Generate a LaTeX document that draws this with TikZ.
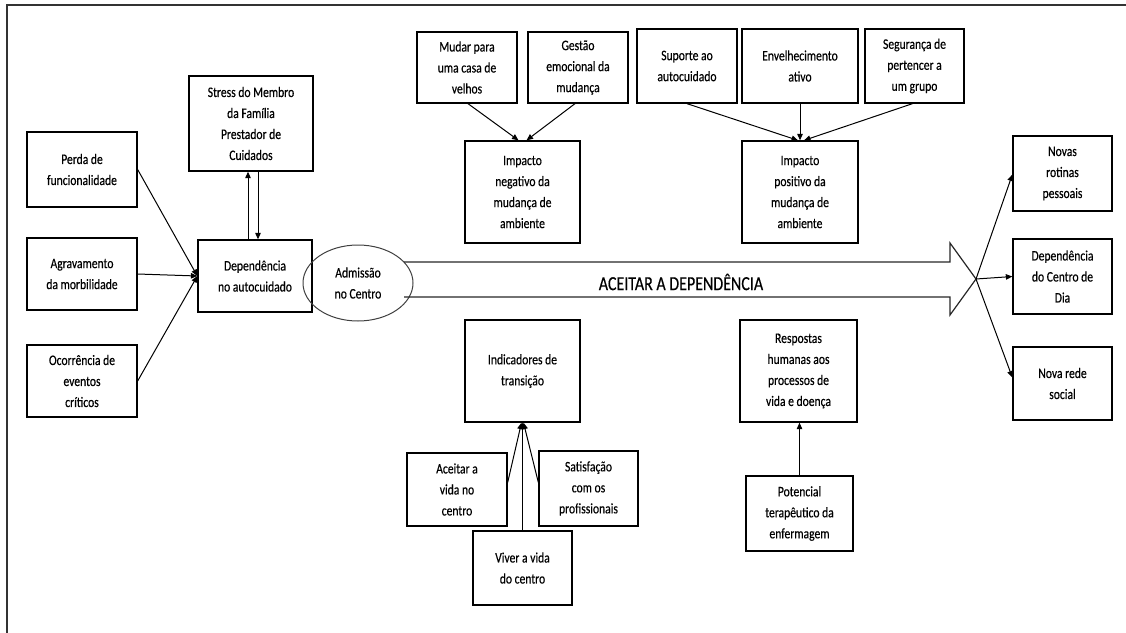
\documentclass[tikz,border=0pt]{standalone}
\usepackage{fontspec}
\setmainfont{Carlito}[FakeStretch=0.8,FakeBold=0.4]
\usetikzlibrary{arrows.meta,shapes.geometric}
\begin{document}
\begin{tikzpicture}[x=1pt,y=-1pt,
  box/.style={draw=black,line width=1.3pt,rectangle,align=center,inner sep=0pt,
    font=\fontsize{14.5}{21}\selectfont},
  arr/.style={draw=black,line width=1pt,-{Triangle[length=6.5pt,width=5.5pt]}}]
\useasboundingbox (0,0) rectangle (1126,632);
\clip (0,0) rectangle (1126,632);
% outer frame (runs past the page on the right and bottom)
\draw[black!80,line width=1.8pt] (7,5) rectangle (1220,700);

% left-hand causes
\node[box,minimum width=110pt,minimum height=75pt] (perda) at (82,169.5) {Perda de\\funcionalidade};
\node[box,minimum width=110pt,minimum height=72pt] (agrav) at (82,274) {Agravamento\\da morbilidade};
\node[box,minimum width=110pt,minimum height=72pt] (ocorr) at (82,381) {Ocorrência de\\eventos\\críticos};
\node[box,minimum width=124pt,minimum height=95pt] (stress) at (251,123.5) {Stress do Membro\\da Família\\Prestador de\\Cuidados};
\node[box,minimum width=114pt,minimum height=72pt] (dep) at (255,276) {Dependência\\no autocuidado};
\node[box,ellipse,draw=black!75,line width=1pt,minimum width=110pt,minimum height=76pt] (adm) at (358,283) {Admissão\\no Centro};

% top groups
\node[box,minimum width=100pt,minimum height=71pt] (mudar) at (467,67.5) {Mudar para\\uma casa de\\velhos};
\node[box,minimum width=100pt,minimum height=71pt] (gestao) at (578,67.5) {Gestão\\emocional da\\mudança};
\node[box,minimum width=115pt,minimum height=102pt] (impneg) at (522.5,192) {Impacto\\negativo da\\mudança de\\ambiente};
\node[box,minimum width=100pt,minimum height=74pt] (suporte) at (687,66) {Suporte ao\\autocuidado};
\node[box,minimum width=116pt,minimum height=74pt] (envelh) at (800,66) {Envelhecimento\\ativo};
\node[box,minimum width=99pt,minimum height=74pt] (segur) at (914.5,66) {Segurança de\\pertencer a\\um grupo};
\node[box,minimum width=116pt,minimum height=102pt] (imppos) at (800,192) {Impacto\\positivo da\\mudança de\\ambiente};

% right-hand outcomes
\node[box,minimum width=99pt,minimum height=75pt] (novas) at (1062.5,173.5) {Novas\\rotinas\\pessoais};
\node[box,minimum width=99pt,minimum height=75pt] (depc) at (1062.5,276.5) {Dependência\\do Centro de\\Dia};
\node[box,minimum width=99pt,minimum height=73pt] (rede) at (1062.5,383.5) {Nova rede\\social};

% bottom groups
\node[box,minimum width=115pt,minimum height=102pt] (indic) at (522.5,371) {Indicadores de\\transição};
\node[box,minimum width=100pt,minimum height=73pt] (aceitar) at (457,489.5) {Aceitar a\\vida no\\centro};
\node[box,minimum width=99pt,minimum height=75pt] (satisf) at (588.5,488.5) {Satisfação\\com os\\profissionais};
\node[box,minimum width=99pt,minimum height=74pt] (viver) at (522.5,568) {Viver a vida\\do centro};
\node[box,minimum width=117pt,minimum height=102pt] (resp) at (798.5,371) {Respostas\\humanas aos\\processos de\\vida e doença};
\node[box,minimum width=107pt,minimum height=75pt] (potenc) at (799.5,513.5) {Potencial\\terapêutico da\\enfermagem};

% large hollow arrow
\coordinate (su) at (404,262);
\coordinate (sl) at (404,297);
\coordinate (tip) at (976,279);
\draw[black!85,line width=1.2pt,line join=miter]
  (su) -- (950,262) -- (950,243) -- (tip) -- (950,315) -- (950,297) -- (sl);
\node[font=\fontsize{20}{24}\selectfont] (aceit) at (681,282) {ACEITAR A DEPENDÊNCIA};

% connectors
\draw[arr] (perda.east) -- (dep.west);
\draw[arr] (agrav.east) -- (dep.west);
\draw[arr] (ocorr.east) -- (dep.west);
\draw[arr] ([xshift=-7pt]dep.north) -- ([xshift=-7pt]dep.north |- stress.south);
\draw[arr] ([xshift=3pt]dep.north |- stress.south) -- ([xshift=3pt]dep.north);

\draw[arr] ([xshift=1pt]mudar.south) -- ([xshift=-4pt]impneg.north);
\draw[arr] ([xshift=-3pt]gestao.south) -- ([xshift=4pt]impneg.north);
\draw[arr] (suporte.south) -- ([xshift=-2pt]imppos.north);
\draw[arr] (envelh.south) -- (imppos.north);
\draw[arr] ([xshift=-2pt]segur.south) -- ([xshift=4pt]imppos.north);

\draw[arr] (tip) -- ([yshift=-1pt]novas.west);
\draw[arr] (tip) -- (depc.west);
\draw[arr] (tip) -- ([yshift=6pt]rede.west);

\draw[arr] ([yshift=7pt]aceitar.east) -- ([xshift=-1pt]indic.south);
\draw[arr] ([yshift=6pt]satisf.west) -- ([xshift=1pt]indic.south);
\draw[arr] (viver.north) -- (indic.south);
\draw[arr] (potenc.north) -- (potenc.north |- resp.south);
\end{tikzpicture}
\end{document}
